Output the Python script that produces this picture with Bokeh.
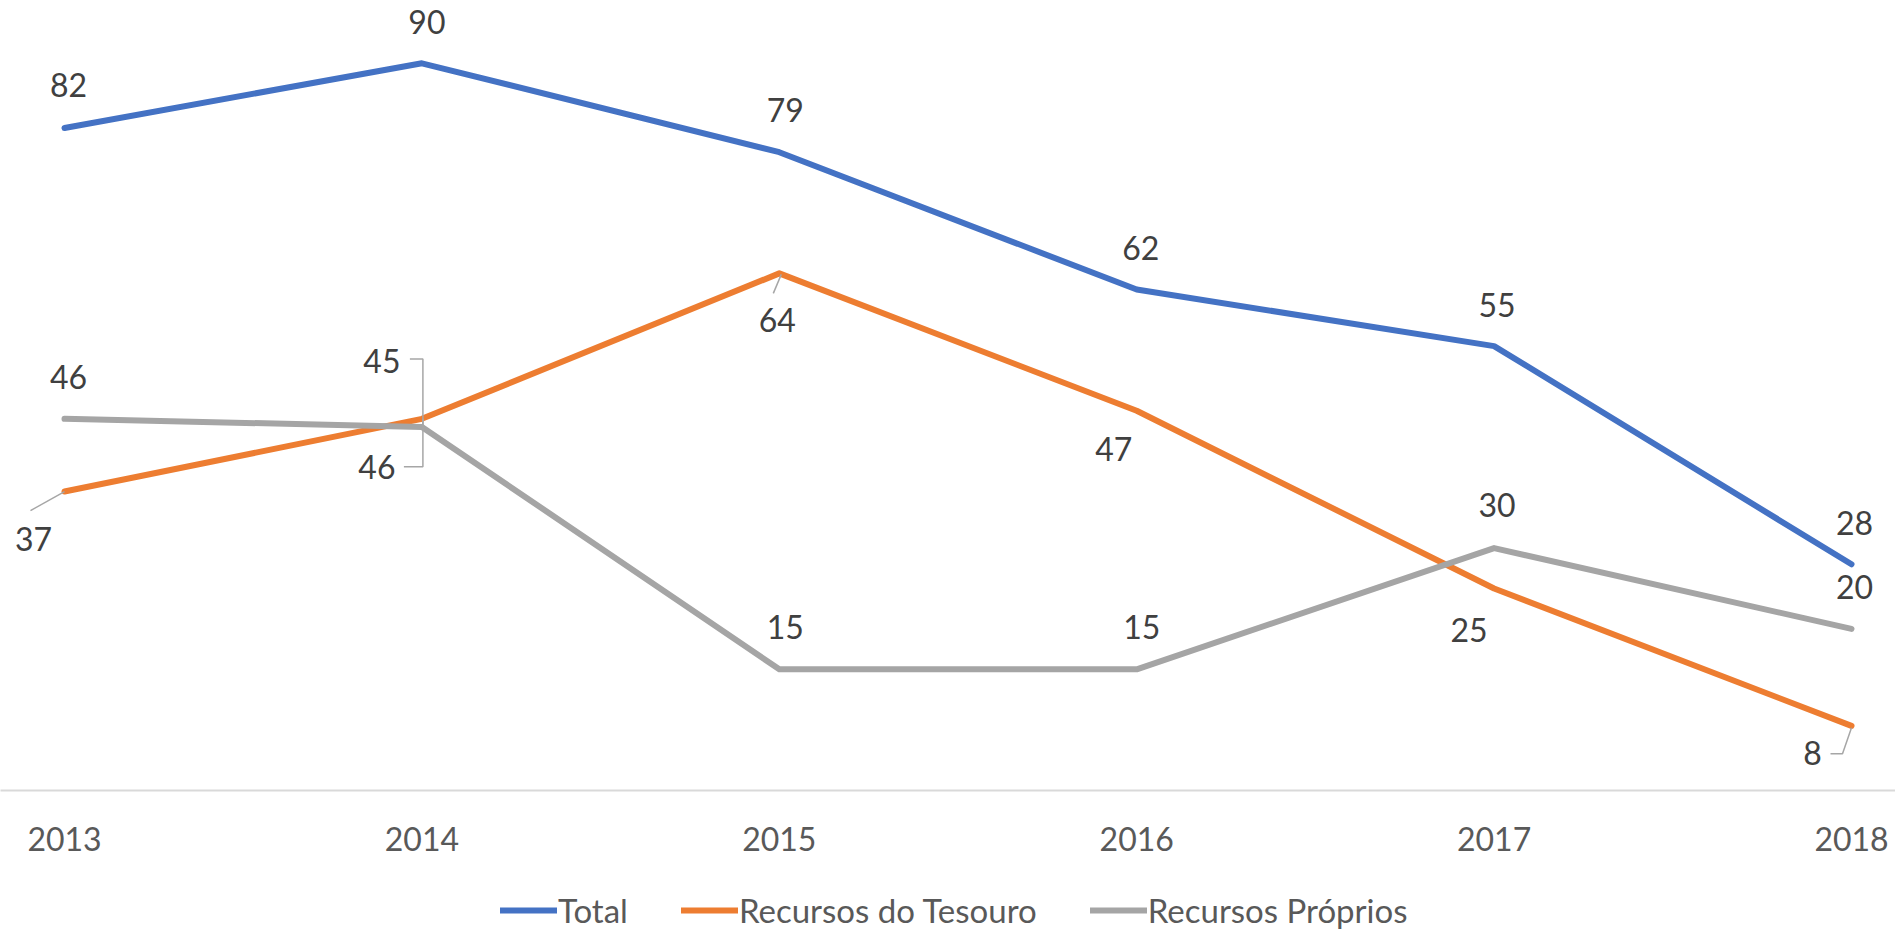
from bokeh.plotting import figure
from bokeh.layouts import column
from bokeh.models import ColumnDataSource, Legend, LegendItem, Range1d, FixedTicker
from bokeh.core.properties import value
from bokeh.embed import file_html
from bokeh.resources import INLINE

# ---- data ----
years = ["2013", "2014", "2015", "2016", "2017", "2018"]
total = [82, 90, 79, 62, 55, 28]
tesouro = [37, 46, 64, 47, 25, 8]
proprios = [46, 45, 15, 15, 30, 20]
series_names = ["Total", "Recursos do Tesouro", "Recursos Próprios"]
series_colors = ["#4472C4", "#ED7D31", "#A5A5A5"]

# ---- layout (pixels) ----
FIG_W = 1895
FRAME_H = 790
AXIS_H = 80
LEG_H = 60
PX_PER_CAT = 357.4
PX_PER_UNIT = 8.08
FIRST_PX = 64
FONT = "Lato"
LINE_W = 6
x_start = -FIRST_PX / PX_PER_CAT
x_end = x_start + FIG_W / PX_PER_CAT
y_end = FRAME_H / PX_PER_UNIT

# data-label pixel offsets (dx right, dy down) for each series
label_offsets = [
    [(4, -43), (5, -41), (6, -42), (4, -42), (3, -41), (3, -41)],
    [(-31, 47), (-45, 48), (-2, 47), (-23, 38), (-25, 41), (-39, 27)],
    [(4, -42), (-40, -66), (6, -42), (5, -42), (3, -43), (3, -42)],
]
# leader lines: (series index, point index, list of pixel offsets)
leaders = [
    (1, 0, [(0, 0), (-34, 19)]),
    (1, 1, [(1, 0), (1, 48), (-18, 48)]),
    (2, 1, [(1, 0), (1, -68), (-12, -68)]),
    (1, 2, [(2, 1), (-6, 20)]),
    (1, 5, [(0, 2), (-9, 28), (-21, 28)]),
]

p = figure(width=FIG_W, height=FRAME_H + AXIS_H,
           x_range=Range1d(x_start, x_end), y_range=Range1d(0, y_end),
           output_backend="svg", toolbar_location=None,
           min_border_left=0, min_border_right=0, min_border_top=0,
           min_border_bottom=AXIS_H)
p.outline_line_color = None
p.xgrid.visible = False
p.ygrid.visible = False
p.yaxis.visible = False
p.background_fill_color = "white"
p.border_fill_color = "white"

xs_idx = list(range(len(years)))
xa = p.xaxis[0]
xa.ticker = FixedTicker(ticks=xs_idx)
xa.major_label_overrides = {i: y for i, y in zip(xs_idx, years)}
xa.axis_line_color = "#D9D9D9"
xa.axis_line_width = 2
xa.major_tick_line_color = None
xa.major_tick_out = 0
xa.minor_tick_line_color = None
xa.minor_tick_out = 0
xa.major_label_text_font = FONT
xa.major_label_text_font_size = "32px"
xa.major_label_text_color = "#595959"
xa.major_label_standoff = 36

all_series = [total, tesouro, proprios]
for vals, col in zip(all_series, series_colors):
    p.line(xs_idx, vals, line_color=col, line_width=LINE_W,
           line_cap="round", line_join="round")

# leader lines
lx, ly = [], []
for si, pi, offs in leaders:
    v = all_series[si][pi]
    lx.append([pi + dx / PX_PER_CAT for dx, dy in offs])
    ly.append([v - dy / PX_PER_UNIT for dx, dy in offs])
p.multi_line(lx, ly, line_color="#A6A6A6", line_width=1.5)

# data labels
tx, ty, tt = [], [], []
for vals, offs in zip(all_series, label_offsets):
    for i, (v, (dx, dy)) in enumerate(zip(vals, offs)):
        tx.append(i + dx / PX_PER_CAT)
        ty.append(v - dy / PX_PER_UNIT)
        tt.append(str(v))
src = ColumnDataSource(dict(x=tx, y=ty, t=tt))
p.text("x", "y", text="t", source=src, text_font=value(FONT),
       text_font_size=value("32px"), text_color="#404040",
       text_align="center", text_baseline="middle")

# ---- legend strip (series drawn outside its visible range; only the legend shows) ----
lg = figure(width=FIG_W, height=LEG_H, x_range=Range1d(-20, -19), y_range=Range1d(0, 1),
            output_backend="svg", toolbar_location=None, min_border=0,
            x_axis_location=None, y_axis_location=None)
lg.outline_line_color = None
lg.xgrid.visible = False
lg.ygrid.visible = False
lg.background_fill_color = "white"
lg.border_fill_color = "white"
leg_renderers = [lg.line(xs_idx, vals, line_color=c, line_width=LINE_W, line_cap="round")
                 for vals, c in zip(all_series, series_colors)]
legend = Legend(items=[LegendItem(label=n, renderers=[r]) for n, r in zip(series_names, leg_renderers)],
                orientation="horizontal", location=(500, 0),
                glyph_width=57, glyph_height=20, label_standoff=1, spacing=53,
                padding=0, margin=0, border_line_color=None,
                background_fill_alpha=0,
                label_text_font=FONT, label_text_font_size="33px",
                label_text_color="#595959")
lg.add_layout(legend, "center")

layout = column(p, lg, spacing=0)
open("out.html", "w").write(file_html(layout, INLINE))
